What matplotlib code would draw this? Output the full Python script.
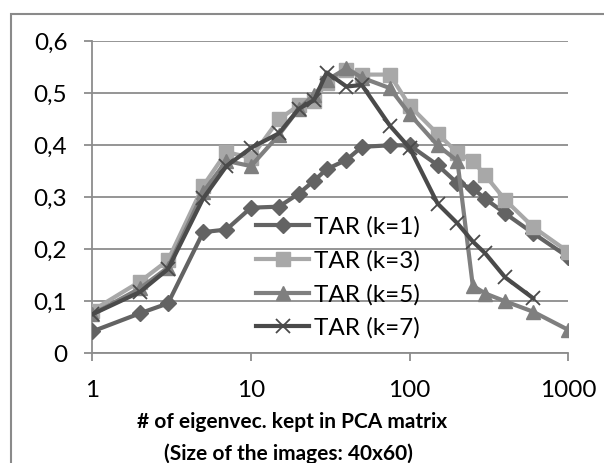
import numpy as np
import matplotlib.pyplot as plt
from matplotlib.patches import Rectangle
from matplotlib.ticker import FixedLocator, FuncFormatter, NullLocator

n_eig = [1, 2, 3, 5, 7, 10, 15, 20, 25, 30, 40, 50, 75, 100, 150, 200, 250, 300, 400, 600, 1000]

tar_k1 = [0.042, 0.077, 0.096, 0.233, 0.238, 0.280, 0.282, 0.307, 0.332, 0.354, 0.372,
          0.397, 0.400, 0.400, 0.362, 0.327, 0.317, 0.297, 0.269, 0.231, 0.185]
tar_k3 = [0.082, 0.138, 0.179, 0.322, 0.387, 0.376, 0.450, 0.477, 0.486, 0.520, 0.545,
          0.536, 0.536, 0.476, 0.422, 0.386, 0.370, 0.342, 0.295, 0.243, 0.195]
tar_k5 = [0.075, 0.125, 0.165, 0.310, 0.370, 0.360, 0.420, 0.470, 0.497, 0.525, 0.548,
          0.530, 0.510, 0.460, 0.400, 0.370, 0.130, 0.115, 0.100, 0.080, 0.045]
tar_k7 = [0.075, 0.118, 0.162, 0.298, 0.360, 0.395, 0.423, 0.470, 0.487, 0.540, 0.513,
          0.516, 0.438, 0.395, 0.288, 0.250, 0.215, 0.192, 0.146, 0.106]

labels = ['TAR (k=1)', 'TAR (k=3)', 'TAR (k=5)', 'TAR (k=7)']
x_ticks = [1, 10, 100, 1000]
y_ticks = [0, 0.1, 0.2, 0.3, 0.4, 0.5, 0.6]

plt.rcParams['font.family'] = ['Lato', 'DejaVu Sans']

W, H = 604, 463
fig = plt.figure(figsize=(W / 100, H / 100), dpi=100)

# 1. Оси
left, right = 92.3 / W, 568.3 / W
bottom, top = 1 - 353.3 / H, 1 - 41.3 / H
ax = fig.add_axes([left, bottom, right - left, top - bottom])

grid_c = '#8c8c8c'
lw = 3.0

ax.plot(n_eig, tar_k1, color='#636363', lw=lw, marker='D', ms=8, label=labels[0], zorder=3)
ax.plot(n_eig, tar_k3, color='#a8a8a8', lw=lw, marker='s', ms=10, label=labels[1], zorder=3)
ax.plot(n_eig, tar_k5, color='#7f7f7f', lw=lw, marker='^', ms=10, label=labels[2], zorder=3)
ax.plot(n_eig[:len(tar_k7)], tar_k7, color='#4a4a4a', lw=lw, marker='x', ms=10, mew=1.3,
        label=labels[3], zorder=4)

ax.set_xscale('log')
ax.set_xlim(1, 1000)
ax.set_ylim(0, 0.6)
ax.xaxis.set_major_locator(FixedLocator(x_ticks))
ax.xaxis.set_minor_locator(NullLocator())
ax.xaxis.set_major_formatter(FuncFormatter(lambda v, p: f'{v:g}'))
ax.yaxis.set_major_locator(FixedLocator(y_ticks))
ax.yaxis.set_major_formatter(FuncFormatter(lambda v, p: '0' if v == 0 else f'{v:.1f}'.replace('.', ',')))

ax.grid(axis='y', color=grid_c, lw=1.3)
ax.set_axisbelow(True)
for s in ['top', 'right']:
    ax.spines[s].set_visible(False)
for s in ['left', 'bottom']:
    ax.spines[s].set_color(grid_c)
    ax.spines[s].set_linewidth(1.3)
ax.tick_params(axis='y', direction='out', length=6, width=1.3, color=grid_c, pad=12, labelsize=17.5)
ax.tick_params(axis='x', direction='out', length=6, width=1.3, color=grid_c, pad=13, labelsize=17.5)

# 2. Подпись оси X (смещена влево, как в оригинале)
fig.text(292 / W, 1 - 422 / H, '# of eigenvec. kept in PCA matrix', ha='center', va='center',
         fontsize=15, fontweight='bold')
fig.text(288 / W, 1 - 454 / H, '(Size of the images: 40x60)', ha='center', va='center',
         fontsize=15, fontweight='bold')

# 3. Легенда
ax.legend(loc='center left', bbox_to_anchor=(256 / W, 1 - 277.5 / H), bbox_transform=fig.transFigure,
          frameon=False, fontsize=17.5, handlelength=2.2, handletextpad=0.2, labelspacing=0.5,
          borderpad=0, borderaxespad=0)

# 4. Рамка вокруг диаграммы
fig.patches.append(Rectangle((11 / W, -0.1), 1.2, 1 - 14 / H + 0.1, transform=fig.transFigure,
                             fill=False, edgecolor='#8a8a8a', lw=1.5))

fig.savefig('out.png', dpi=100)
